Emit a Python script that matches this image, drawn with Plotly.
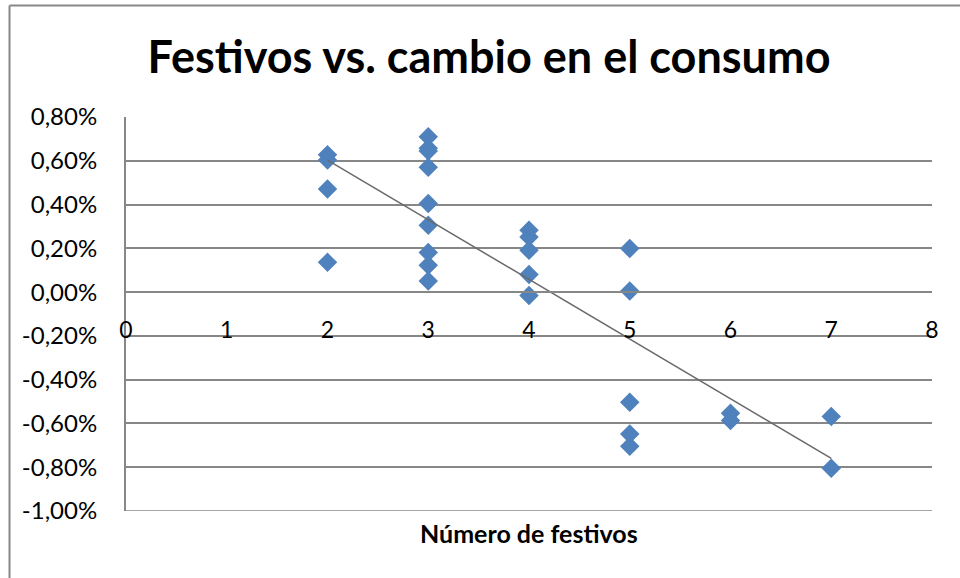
import numpy as np
import plotly.graph_objects as go

# Data (y in percent)
festivos = [2, 2, 2, 2,
            3, 3, 3, 3, 3, 3, 3, 3, 3,
            4, 4, 4, 4, 4,
            5, 5, 5, 5, 5,
            6, 6,
            7, 7]
cambio = [0.627, 0.604, 0.471, 0.136,
          0.710, 0.657, 0.645, 0.570, 0.405, 0.306, 0.181, 0.123, 0.051,
          0.283, 0.252, 0.191, 0.080, -0.015,
          0.199, 0.005, -0.503, -0.648, -0.704,
          -0.553, -0.587,
          -0.568, -0.805]

y_tickvals = [0.8, 0.6, 0.4, 0.2, 0.0, -0.2, -0.4, -0.6, -0.8, -1.0]
y_ticktext = ["0,80%", "0,60%", "0,40%", "0,20%", "0,00%", "-0,20%", "-0,40%",
              "-0,60%", "-0,80%", "-1,00%"]
x_tickvals = [0, 1, 2, 3, 4, 5, 6, 7, 8]

title_text = "Festivos vs. cambio en el consumo"
x_title = "Número de festivos"

# Linear trendline (least squares) over data range
slope, intercept = np.polyfit(festivos, cambio, 1)
tx = [min(festivos), max(festivos)]
ty = [slope * v + intercept for v in tx]

W, H = 960, 578
L, R, T, B = 126, 28, 117, 67
pw, ph = W - L - R, H - T - B
y_min, y_max = -1.0, 0.8
grid = "#878787"
font = "Lato"

fig = go.Figure()
fig.add_trace(go.Scatter(
    x=festivos, y=cambio, mode="markers",
    marker=dict(symbol="diamond", size=15, color="#4F81BD",
                line=dict(width=0)),
    showlegend=False, hoverinfo="x+y"))
fig.add_trace(go.Scatter(
    x=tx, y=ty, mode="lines",
    line=dict(color="#6a6a6a", width=1.5),
    showlegend=False, hoverinfo="skip"))

def px_x(p):
    return (p - L) / pw

def px_y(p):
    return (H - B - p) / ph

border = dict(color=grid, width=2)
shapes = [
    dict(type="line", xref="paper", yref="paper",
         x0=px_x(9.5), x1=px_x(9.5), y0=px_y(5.5), y1=px_y(H + 2), line=border),
    dict(type="line", xref="paper", yref="paper",
         x0=px_x(9.5), x1=px_x(W + 2), y0=px_y(5.5), y1=px_y(5.5), line=border),
    # gridline at the bottom edge of the value axis
    dict(type="line", xref="paper", yref="y", layer="below",
         x0=0, x1=1, y0=y_min, y1=y_min, line=dict(color=grid, width=1.5)),
]

fig.update_layout(
    width=W, height=H,
    margin=dict(l=L, r=R, t=T, b=B),
    paper_bgcolor="white", plot_bgcolor="white",
    font=dict(family=font, color="#000000"),
    title=dict(text="<b>" + title_text + "</b>", xref="container", yref="container",
               x=489 / W, xanchor="center", y=1 - 57 / H, yanchor="middle",
               font=dict(size=45, family=font, color="#000000")),
    shapes=shapes,
    xaxis=dict(range=[0, 8], tickvals=x_tickvals, showgrid=False,
               zeroline=False, showline=True, linecolor=grid, linewidth=1.5,
               anchor="free", position=(0 - y_min) / (y_max - y_min),
               ticks="", ticklabelstandoff=18,
               tickfont=dict(size=23, family=font, color="#000000")),
    yaxis=dict(range=[y_min, y_max], tickvals=y_tickvals, ticktext=y_ticktext,
               showgrid=True, gridcolor=grid, gridwidth=1.5,
               zeroline=False, showline=True, linecolor=grid, linewidth=2,
               ticks="", ticklabelstandoff=22,
               tickfont=dict(size=24, family=font, color="#000000")),
    annotations=[dict(text="<b>" + x_title + "</b>", xref="paper", yref="paper",
                      x=(529 - L) / pw, y=px_y(533), xanchor="center",
                      yanchor="middle", showarrow=False,
                      font=dict(size=25, family=font, color="#000000"))],
)

fig.write_html("out.html")
